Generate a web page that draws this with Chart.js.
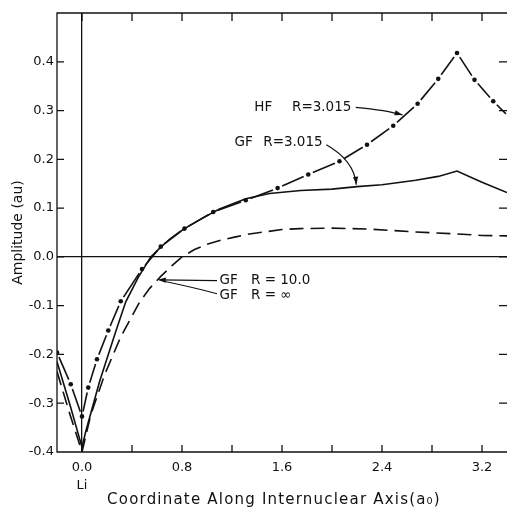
<!DOCTYPE html>
<html>
<head>
<meta charset="utf-8">
<script src="https://cdn.jsdelivr.net/npm/chart.js@4.4.1/dist/chart.umd.min.js"></script>
<style>
  html, body { margin: 0; padding: 0; background: #fff; overflow: hidden; }
  #wrap { width: 507px; height: 508px; }
</style>
</head>
<body>
<div id="wrap"><canvas id="chart"></canvas></div>
<script>
const xTicks = [0, 0.4, 0.8, 1.2, 1.6, 2.0, 2.4, 2.8, 3.2];
const xLabelled = [0, 0.8, 1.6, 2.4, 3.2];
const yTicks = [-0.4, -0.3, -0.2, -0.1, 0, 0.1, 0.2, 0.3, 0.4];
const xTitle = 'Coordinate Along Internuclear Axis(a\u2080)';

// HF, R = 3.015 (dash-dot, dots at the computed points)
const hfX = [-0.2, -0.09, 0, 0.05, 0.12, 0.21, 0.31, 0.48, 0.63, 0.82, 1.05, 1.31, 1.565, 1.81, 2.06, 2.28, 2.49, 2.685, 2.85, 3.0, 3.14, 3.29, 3.42];
const hfY = [-0.196, -0.261, -0.327, -0.268, -0.21, -0.151, -0.091, -0.025, 0.021, 0.058, 0.092, 0.116, 0.141, 0.169, 0.196, 0.23, 0.269, 0.314, 0.365, 0.418, 0.363, 0.319, 0.286];

// GF, R = 3.015 (solid)
const gfX = [-0.2, -0.1, 0, 0.03, 0.14, 0.27, 0.35, 0.45, 0.55, 0.63, 0.7, 0.78, 0.86, 0.96, 1.1, 1.31, 1.5, 1.75, 2.0, 2.2, 2.4, 2.67, 2.85, 3.0, 3.2, 3.4];
const gfY = [-0.215, -0.30, -0.39, -0.358, -0.256, -0.153, -0.092, -0.042, 0.0, 0.02, 0.036, 0.051, 0.064, 0.079, 0.098, 0.119, 0.13, 0.136, 0.139, 0.144, 0.148, 0.157, 0.165, 0.176, 0.153, 0.132];

// GF, R = 10.0 and R = infinity (dashed, the two coincide)
const gfInfX = [-0.2, -0.1, 0, 0.07, 0.18, 0.31, 0.46, 0.54, 0.63, 0.72, 0.8, 0.9, 1.0, 1.12, 1.23, 1.34, 1.6, 1.74, 2.0, 2.3, 2.67, 3.0, 3.2, 3.4];
const gfInfY = [-0.235, -0.32, -0.40, -0.324, -0.242, -0.164, -0.093, -0.065, -0.04, -0.018, 0.0, 0.015, 0.026, 0.035, 0.041, 0.047, 0.056, 0.058, 0.059, 0.057, 0.051, 0.047, 0.044, 0.043];

const toXY = (xs, ys) => xs.map((x, i) => ({ x: x, y: ys[i] }));
const ink = '#111';
const font = '"DejaVu Sans", sans-serif';

// frame with inward ticks on all sides, plus the spaced-out x title
const frame = {
    id: 'frame',
    afterDraw(chart) {
        const { ctx, chartArea: a, scales: { x, y } } = chart;
        ctx.save();
        ctx.strokeStyle = ink;
        ctx.lineWidth = 1.3;
        ctx.beginPath();
        ctx.moveTo(a.right, a.top); ctx.lineTo(a.left, a.top);
        ctx.lineTo(a.left, a.bottom); ctx.lineTo(a.right, a.bottom);
        xTicks.forEach(v => {
            const p = x.getPixelForValue(v);
            ctx.moveTo(p, a.bottom); ctx.lineTo(p, a.bottom - 7);
            ctx.moveTo(p, a.top); ctx.lineTo(p, a.top + 8);
        });
        yTicks.forEach(v => {
            const p = y.getPixelForValue(v);
            ctx.moveTo(a.left, p); ctx.lineTo(a.left + 7, p);
            ctx.moveTo(a.right, p); ctx.lineTo(a.right - 8, p);
        });
        ctx.stroke();

        ctx.fillStyle = ink;
        ctx.font = '15px ' + font;
        ctx.letterSpacing = '1.2px';
        ctx.textAlign = 'center';
        ctx.textBaseline = 'middle';
        ctx.fillText(xTitle, (a.left + a.right) / 2 - 8, 500);
        ctx.restore();
    }
};

function arrowHead(ctx, tx, ty, fx, fy) {
    const a = Math.atan2(ty - fy, tx - fx);
    const L = 8, W = 2.6;
    ctx.beginPath();
    ctx.moveTo(tx, ty);
    ctx.lineTo(tx - L * Math.cos(a) + W * Math.sin(a), ty - L * Math.sin(a) - W * Math.cos(a));
    ctx.lineTo(tx - L * Math.cos(a) - W * Math.sin(a), ty - L * Math.sin(a) + W * Math.cos(a));
    ctx.closePath();
    ctx.fill();
}

// curve labels and their arrows
const notes = {
    id: 'notes',
    afterDatasetsDraw(chart) {
        const { ctx, scales: { x, y } } = chart;
        const P = (vx, vy) => [x.getPixelForValue(vx), y.getPixelForValue(vy)];
        ctx.save();
        ctx.fillStyle = ink;
        ctx.strokeStyle = ink;
        ctx.lineWidth = 1.2;
        ctx.font = '13.5px ' + font;
        ctx.textBaseline = 'middle';
        ctx.textAlign = 'left';

        const text = (s, vx, vy) => { const [a, b] = P(vx, vy); ctx.fillText(s, a, b); };
        const curve = (p0, c, p1) => {
            const [x0, y0] = P(...p0), [cx, cy] = P(...c), [x1, y1] = P(...p1);
            ctx.beginPath();
            ctx.moveTo(x0, y0);
            ctx.quadraticCurveTo(cx, cy, x1, y1);
            ctx.stroke();
            return [cx, cy, x1, y1];
        };

        text('HF', 1.378, 0.307);
        text('R=3.015', 1.68, 0.307);
        let [cx, cy, ex, ey] = curve([2.19, 0.3066], [2.438, 0.3008], [2.565, 0.2908]);
        arrowHead(ctx, ex, ey, cx, cy);

        text('GF', 1.22, 0.234);
        text('R=3.015', 1.45, 0.234);
        [cx, cy, ex, ey] = curve([1.955, 0.2297], [2.178, 0.197], [2.194, 0.148]);
        arrowHead(ctx, ex, ey, cx, cy);

        text('GF', 1.10, -0.0485);
        text('R = 10.0', 1.352, -0.0485);
        text('GF', 1.10, -0.0785);
        text('R = \u221E', 1.352, -0.0785);
        curve([1.08, -0.0485], [0.85, -0.048], [0.62, -0.047]);
        curve([1.08, -0.0755], [0.898, -0.063], [0.655, -0.050]);
        const [tx, ty] = P(0.606, -0.047);
        const [fx, fy] = P(0.7, -0.048);
        arrowHead(ctx, tx, ty, fx, fy);
        ctx.restore();
    }
};

const ctxMain = document.getElementById('chart').getContext('2d');
new Chart(ctxMain, {
    type: 'line',
    data: {
        datasets: [
            {
                label: 'GF R = 10.0 / R = \u221E',
                data: toXY(gfInfX, gfInfY),
                borderColor: ink,
                borderWidth: 1.6,
                borderDash: [14, 7],
                pointRadius: 0,
                tension: 0
            },
            {
                label: 'GF R = 3.015',
                data: toXY(gfX, gfY),
                borderColor: ink,
                borderWidth: 1.6,
                pointRadius: 0,
                tension: 0
            },
            {
                label: 'HF R = 3.015',
                data: toXY(hfX, hfY),
                borderColor: ink,
                borderWidth: 1.6,
                pointRadius: 2.3,
                pointBorderWidth: 0,
                pointBackgroundColor: ink,
                tension: 0,
                segment: {
                    // each segment: gap, dash, gap so the dots sit in the gaps
                    borderDash: c => {
                        const len = Math.hypot(c.p1.x - c.p0.x, c.p1.y - c.p0.y);
                        return [0, 5, Math.max(len - 10, 0.01), 30];
                    }
                }
            }
        ]
    },
    options: {
        responsive: true,
        maintainAspectRatio: false,
        animation: false,
        layout: { autoPadding: false, padding: { top: 13, right: 0, left: 0, bottom: 0 } },
        plugins: {
            legend: { display: false },
            tooltip: { enabled: false }
        },
        scales: {
            x: {
                type: 'linear',
                min: -0.2,
                max: 3.4,
                afterBuildTicks: s => { s.ticks = xTicks.map(v => ({ value: v })); },
                afterFit: s => { s.height = 56; s.paddingLeft = 0; s.paddingRight = 0; },
                border: { display: false },
                grid: {
                    drawTicks: false,
                    lineWidth: 1.3,
                    color: c => (c.tick && c.tick.value === 0) ? ink : 'rgba(0,0,0,0)'
                },
                ticks: {
                    padding: 7,
                    color: ink,
                    autoSkip: false,
                    maxRotation: 0,
                    font: { family: font, size: 13, lineHeight: '18px' },
                    callback: v => {
                        if (v === 0) return ['0.0', 'Li'];
                        return xLabelled.includes(v) ? v.toFixed(1) : '';
                    }
                }
            },
            y: {
                min: -0.4,
                max: 0.5,
                afterBuildTicks: s => { s.ticks = yTicks.map(v => ({ value: v })); },
                afterFit: s => { s.width = 57; s.paddingTop = 0; s.paddingBottom = 0; },
                border: { display: false },
                grid: {
                    drawTicks: false,
                    lineWidth: 1.3,
                    color: c => (c.tick && c.tick.value === 0) ? ink : 'rgba(0,0,0,0)'
                },
                ticks: {
                    padding: 3,
                    color: ink,
                    font: { family: font, size: 13 },
                    callback: v => v.toFixed(1)
                },
                title: {
                    display: true,
                    text: 'Amplitude (au)',
                    color: ink,
                    font: { family: font, size: 14 },
                    padding: { top: 10, bottom: 0 }
                }
            }
        }
    },
    plugins: [frame, notes]
});
</script>
</body>
</html>
